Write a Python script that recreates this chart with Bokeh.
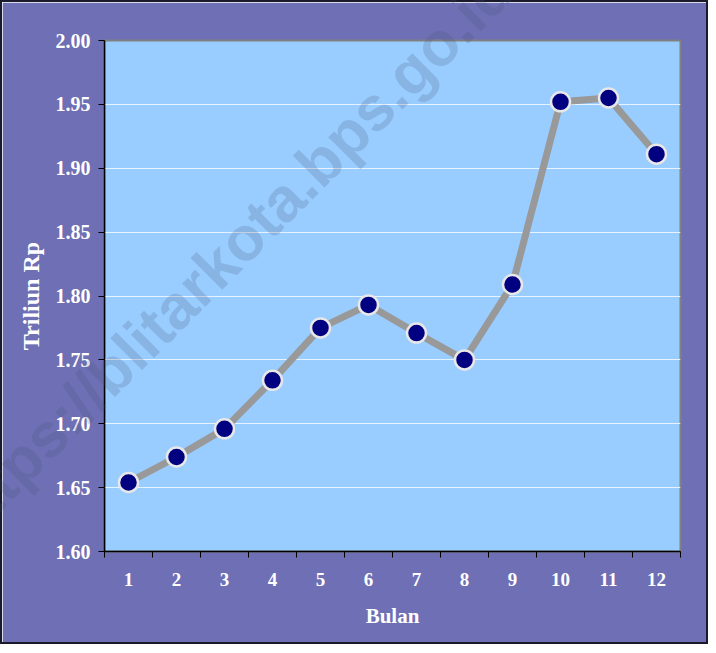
from bokeh.plotting import figure
from bokeh.models import FixedTicker, ColumnDataSource, NumeralTickFormatter, Div
from bokeh.layouts import column
from bokeh.embed import file_html
from bokeh.resources import INLINE

bulan = list(range(1, 13))
nilai = [1.654, 1.674, 1.696, 1.734, 1.775, 1.793, 1.771, 1.750, 1.809, 1.952, 1.955, 1.911]
y_ticks = [1.60, 1.65, 1.70, 1.75, 1.80, 1.85, 1.90, 1.95, 2.00]
x_title = "Bulan"
y_title = "Triliun Rp"
watermark = "https://blitarkota.bps.go.id"

src = ColumnDataSource(dict(x=bulan, y=nilai))

p = figure(width=708, height=644, output_backend="svg", toolbar_location=None,
           x_range=(0.5, 12.5), y_range=(1.60, 2.00),
           min_border_left=102, min_border_right=30, min_border_top=38, min_border_bottom=95)
p.styles = {"border": "2px solid #1a1a2a"}

p.background_fill_color = "#99CCFF"
p.border_fill_color = "#6E6FB4"
p.outline_line_color = "#808080"
p.outline_line_width = 2

p.xgrid.grid_line_color = None
p.ygrid.grid_line_color = "#E6F2FF"
p.ygrid.grid_line_width = 1
p.ygrid.ticker = FixedTicker(ticks=y_ticks)

font = "Liberation Serif"
# Y axis
p.yaxis.ticker = FixedTicker(ticks=y_ticks)
p.yaxis.formatter = NumeralTickFormatter(format="0.00")
p.yaxis.axis_line_color = "black"
p.yaxis.axis_line_width = 1.5
p.yaxis.major_tick_line_color = "black"
p.yaxis.major_tick_out = 6
p.yaxis.major_tick_in = 0
p.yaxis.minor_tick_line_color = None
p.yaxis.major_label_text_font = font
p.yaxis.major_label_text_font_style = "bold"
p.yaxis.major_label_text_font_size = "20px"
p.yaxis.major_label_text_color = "white"
p.yaxis.major_label_standoff = 8
p.yaxis.axis_label = y_title
p.yaxis.axis_label_text_font = font
p.yaxis.axis_label_text_font_style = "bold"
p.yaxis.axis_label_text_font_size = "24px"
p.yaxis.axis_label_text_color = "white"
p.yaxis.axis_label_standoff = 9

# X axis
p.xaxis.ticker = FixedTicker(ticks=bulan, minor_ticks=[b - 0.5 for b in bulan] + [12.5])
p.xaxis.axis_line_color = "black"
p.xaxis.axis_line_width = 1.5
p.xaxis.major_tick_line_color = None
p.xaxis.major_tick_out = 0
p.xaxis.major_tick_in = 0
p.xaxis.minor_tick_line_color = "black"
p.xaxis.minor_tick_out = 6
p.xaxis.minor_tick_in = 0
p.xaxis.major_label_text_font = font
p.xaxis.major_label_text_font_style = "bold"
p.xaxis.major_label_text_font_size = "19px"
p.xaxis.major_label_text_color = "white"
p.xaxis.major_label_standoff = 15
p.xaxis.axis_label = x_title
p.xaxis.axis_label_text_font = font
p.xaxis.axis_label_text_font_style = "bold"
p.xaxis.axis_label_text_font_size = "21px"
p.xaxis.axis_label_text_color = "white"
p.xaxis.axis_label_standoff = 15

p.line("x", "y", source=src, line_color="#999999", line_width=7)
p.scatter("x", "y", source=src, size=19, fill_color="#000080",
          line_color="#E8E8E8", line_width=2.5)

wm = Div(text=watermark, width=900, height=62, styles={
    "position": "absolute", "left": "-39px", "top": "489px",
    "font-family": "'Liberation Sans', Arial, sans-serif", "font-weight": "bold",
    "font-size": "62px", "line-height": "62px", "white-space": "nowrap",
    "color": "rgba(68,84,120,0.2)", "transform-origin": "0px 52px",
    "transform": "rotate(-45deg)", "pointer-events": "none", "z-index": "10"})

lay = column(p, wm, styles={"overflow": "hidden", "position": "relative"})

open("out.html", "w").write(file_html(lay, INLINE))
